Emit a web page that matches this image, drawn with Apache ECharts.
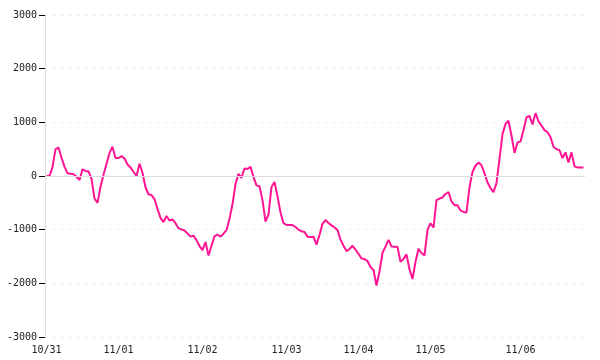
<!DOCTYPE html>
<html>
<head>
<meta charset="utf-8">
<script src="https://cdn.jsdelivr.net/npm/echarts@6/dist/echarts.min.js"></script>
<style>
html,body{margin:0;padding:0;background:#fff;}
#chart{width:600px;height:360px;}
</style>
</head>
<body>
<div id="chart"></div>
<script>
// Day labels and number of samples per day
var dayLabels = ['10/31', '11/01', '11/02', '11/03', '11/04', '11/05', '11/06'];
var pointsPerDay = [24, 28, 28, 24, 24, 30, 22];

// Series values
var values = [
  0, 0, 168, 500, 530, 340, 175, 50, 40, 35, -15, -75, 125, 95, 85, -55, -420, -500, -200, 25,
  225, 430, 545, 335, 335, 370, 325, 215, 160, 75, 0, 230, 55, -210, -340, -355, -430, -615, -780, -860,
  -745, -830, -810, -880, -975, -995, -1015, -1070, -1130, -1110, -1195, -1305, -1380, -1230, -1480, -1300, -1125, -1090, -1130, -1075,
  -1010, -795, -525, -150, 40, -35, 140, 130, 170, -20, -175, -190, -450, -850, -720, -205, -110, -380, -680, -880,
  -913, -915, -915, -950, -1000, -1030, -1045, -1130, -1135, -1130, -1280, -1100, -890, -820, -875, -920, -960, -1005, -1185, -1300,
  -1400, -1360, -1300, -1370, -1450, -1538, -1548, -1585, -1695, -1750, -2040, -1780, -1430, -1315, -1190, -1312, -1320, -1320, -1600, -1545,
  -1460, -1740, -1920, -1600, -1355, -1435, -1480, -1005, -880, -960, -450, -420, -400, -335, -300, -475, -545, -545, -645, -670,
  -680, -205, 75, 190, 250, 200, 50, -120, -225, -300, -130, 320, 780, 970, 1030, 750, 430, 625, 640, 855,
  1090, 1120, 960, 1170, 1020, 940, 855, 815, 725, 545, 500, 480, 335, 440, 250, 440, 180, 160, 160, 160
];

// Y axis range / ticks
var yMin = -3000, yMax = 3000, yStep = 1000;

// Build categories: "MM/DD #n"
var categories = [];
var firstOfDay = {};
for (var d = 0; d < dayLabels.length; d++) {
  for (var k = 0; k < pointsPerDay[d]; k++) {
    if (k === 0) firstOfDay[categories.length] = true;
    categories.push(dayLabels[d] + ' #' + (k + 1));
  }
}

var font = '"DejaVu Sans Mono", monospace';
var chart = echarts.init(document.getElementById('chart'), null, {renderer: 'canvas'});
chart.setOption({
  animation: false,
  backgroundColor: '#ffffff',
  grid: {left: 45, right: 15, top: 15, bottom: 23, containLabel: false},
  xAxis: {
    type: 'category',
    data: categories,
    boundaryGap: true,
    axisLine: {show: false, onZero: false},
    axisTick: {show: false},
    splitLine: {show: false},
    axisLabel: {
      interval: function (idx) { return !!firstOfDay[idx]; },
      formatter: function (v) { return v.split(' ')[0]; },
      color: '#222',
      fontFamily: font,
      fontSize: 10,
      margin: 8
    }
  },
  yAxis: {
    type: 'value',
    min: yMin,
    max: yMax,
    interval: yStep,
    axisLine: {show: true, onZero: false, lineStyle: {color: '#dddddd', width: 1}},
    axisTick: {show: true, inside: false, length: 6, lineStyle: {color: '#000000', width: 1}},
    splitLine: {show: true, lineStyle: {color: '#eeeeee', type: [3, 5], width: 1}},
    axisLabel: {
      color: '#222',
      fontFamily: font,
      fontSize: 10,
      margin: 8,
      formatter: function (v) { return String(v); }
    }
  },
  series: [{
    type: 'line',
    data: values,
    symbol: 'none',
    lineStyle: {color: '#ff1493', width: 2},
    itemStyle: {color: '#ff1493'},
    markLine: {
      silent: true,
      symbol: 'none',
      label: {show: false},
      lineStyle: {color: '#dddddd', type: 'solid', width: 1},
      data: [{yAxis: 0}]
    },
    z: 3
  }]
});
</script>
</body>
</html>
